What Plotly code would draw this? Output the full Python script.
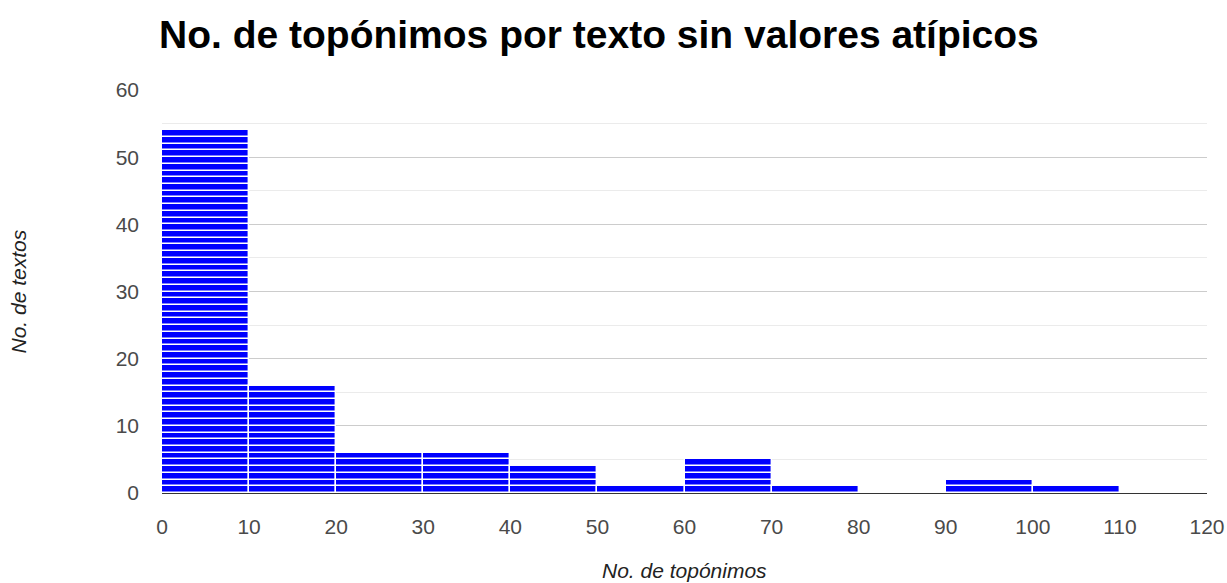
import plotly.graph_objects as go

# Histogram of place names per text (outliers removed), bins of width 10
bin_starts = [0, 10, 20, 30, 40, 50, 60, 70, 80, 90, 100]
bin_counts = [54, 16, 6, 6, 4, 1, 5, 1, 0, 2, 1]
bin_width = 10

x_ticks = list(range(0, 121, 10))
y_ticks = list(range(0, 61, 10))

# Each text is drawn as one unit block stacked inside its bin
xs, bases, heights = [], [], []
for start, count in zip(bin_starts, bin_counts):
    for k in range(count):
        xs.append(start + bin_width / 2)
        bases.append(k)
        heights.append(1)

fig = go.Figure(
    go.Bar(
        x=xs,
        y=heights,
        base=bases,
        width=bin_width,
        marker=dict(color="#0000ff", line=dict(color="white", width=1.4)),
        hoverinfo="skip",
    )
)

font_family = "Liberation Sans, Arial, sans-serif"
axis_title_font = dict(family=font_family, size=21, color="#222222")

fig.update_layout(
    width=1227,
    height=583,
    margin=dict(l=162, r=20, t=90, b=90),
    paper_bgcolor="white",
    plot_bgcolor="white",
    showlegend=False,
    bargap=0,
    font=dict(family=font_family, color="#4a4a4a", size=21),
    title=dict(
        text="<b>No. de topónimos por texto sin valores atípicos</b>",
        x=159 / 1227,
        xanchor="left",
        y=1 - 34 / 583,
        yanchor="middle",
        font=dict(family=font_family, size=39, color="#000000"),
    ),
    xaxis=dict(
        range=[0, 120],
        tickvals=x_ticks,
        showgrid=False,
        zeroline=False,
        showline=True,
        linecolor="#333333",
        linewidth=1.3,
        ticks="",
        ticklabelstandoff=15,
        automargin=False,
    ),
    yaxis=dict(
        range=[0, 60],
        tickvals=y_ticks,
        showgrid=True,
        gridcolor="#cccccc",
        gridwidth=1,
        zeroline=False,
        ticks="",
        ticklabelstandoff=22,
        automargin=False,
        minor=dict(dtick=5, showgrid=True, gridcolor="#ebebeb", gridwidth=1),
    ),
    annotations=[
        dict(
            text="<i>No. de topónimos</i>",
            xref="paper", yref="paper",
            x=0.5, y=-77 / 403,
            xanchor="center", yanchor="middle",
            showarrow=False,
            font=axis_title_font,
        ),
        dict(
            text="<i>No. de textos</i>",
            xref="paper", yref="paper",
            x=-(162 - 18) / 1045, y=0.5,
            xanchor="center", yanchor="middle",
            textangle=-90,
            showarrow=False,
            font=axis_title_font,
        ),
    ],
)

fig.write_html("out.html")
